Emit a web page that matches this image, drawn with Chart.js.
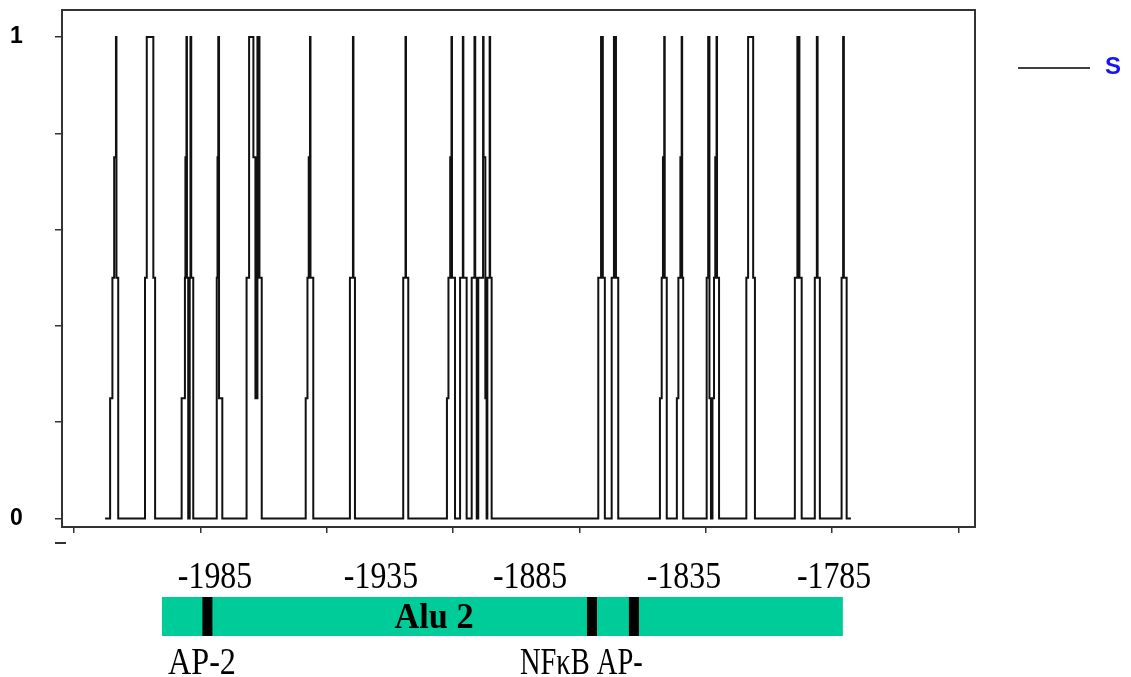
<!DOCTYPE html>
<html>
<head>
<meta charset="utf-8">
<script src="https://cdn.jsdelivr.net/npm/chart.js@4.4.1/dist/chart.umd.min.js"></script>
<style>
  html, body { margin: 0; padding: 0; background: #fff; }
  #wrap { width: 1131px; height: 677px; }
</style>
</head>
<body>
<div id="wrap"><canvas id="chart" width="1131" height="677"></canvas></div>
<script>
// positions where the level changes, and the new level at that position
const stepX = [
  12.3,
  14.3, 15.2, 15.9, 16.6, 16.8, 17.5,
  28.1, 28.8, 31.4, 32.1,
  42.6, 43.9, 44.1, 44.5, 44.7, 45.2,
  45.8, 46.1, 46.4, 47.2,
  56.5, 56.8, 57.1, 57.4, 58.7,
  68.3, 69.3, 71.0, 71.8, 72.6, 73.4, 74.3,
  91.7, 92.4, 92.9, 93.4, 93.6, 94.7,
  109.2, 110.4, 110.6, 111.2,
  130.3, 131.2, 131.4, 132.3,
  147.6, 148.2, 148.9, 149.4, 149.6, 150.8,
  152.8, 153.9, 154.1, 155.4,
  157.4, 158.5, 158.8, 159.4,
  160.0, 161.9, 162.1, 162.8, 163.3,
  163.6, 164.5, 164.7, 165.3,
  207.5, 208.6, 209.3, 210.1,
  212.8, 213.7, 214.5, 215.4,
  231.9, 232.6, 233.1, 233.6, 233.8, 234.6,
  238.6, 239.2, 240.0, 240.5, 240.7, 241.1,
  250.4, 251.0, 251.5, 252.1,
  252.7, 253.3, 253.8, 254.3, 254.5, 255.3,
  266.1, 266.8, 268.8, 269.5,
  285.3, 286.3, 287.1, 288.0,
  293.2, 294.0, 294.3, 295.2,
  303.8, 304.4, 304.7, 305.8,
  307.5
];
const stepY = [
  0,
  0.25, 0.5, 0.75, 1, 0.5, 0,
  0.5, 1, 0.5, 0,
  0.25, 0.5, 0.75, 1, 0.5, 0,
  0.5, 1, 0.5, 0,
  0.5, 0.75, 1, 0.25, 0,
  0.5, 1, 0.75, 0.25, 1, 0.5, 0,
  0.25, 0.5, 0.75, 1, 0.5, 0,
  0.5, 1, 0.5, 0,
  0.5, 1, 0.5, 0,
  0.25, 0.5, 0.75, 1, 0.5, 0,
  0.5, 1, 0.5, 0,
  0.5, 1, 0.5, 0,
  0.5, 1, 0.75, 0.25, 0,
  0.5, 1, 0.5, 0,
  0.5, 1, 0.5, 0,
  0.5, 1, 0.5, 0,
  0.25, 0.5, 0.75, 1, 0.5, 0,
  0.25, 0.5, 0.75, 1, 0.5, 0,
  0.5, 1, 0.25, 0,
  0.25, 0.5, 0.75, 1, 0.5, 0,
  0.5, 1, 0.5, 0,
  0.5, 1, 0.5, 0,
  0.5, 1, 0.5, 0,
  0.5, 1, 0.5, 0,
  0
];

const xTicks = [0, 50, 100, 150, 200, 250, 300, 350];
const yTicks = [0, 0.2, 0.4, 0.6, 0.8, 1];
const yShown = [0, 1];
const seriesName = 'S';

// annotation track under the plot
const posLabels = ['-1985', '-1935', '-1885', '-1835', '-1785'];
const posLabelAt = [55.8, 121.5, 180.5, 241.4, 300.8];
const aluRange = [34.8, 304.3];
const aluName = 'Alu 2';
const aluNameAt = 142.5;
const siteAt = [52.8, 205.0, 221.6];
const siteNames = ['AP-2', 'NF\u03BAB AP-'];
const siteNameAt = [37.2, 176.5];
const siteSqueeze = [0.87, 0.77];

const serif = "'Liberation Serif', 'Times New Roman', serif";

function squeezeText(ctx, txt, x, y, font, align, sx) {
  ctx.save();
  ctx.font = font;
  ctx.translate(x, y);
  ctx.scale(sx, 1);
  ctx.textAlign = align;
  ctx.textBaseline = 'alphabetic';
  ctx.fillText(txt, 0, 0);
  ctx.restore();
}

const decor = {
  id: 'decor',
  afterDraw(chart) {
    const { ctx, chartArea: a, scales: { x } } = chart;
    ctx.save();
    // plot frame
    ctx.strokeStyle = '#333';
    ctx.lineWidth = 2;
    ctx.strokeRect(a.left, a.top, a.right - a.left, a.bottom - a.top);
    // small dash below the corner
    ctx.beginPath();
    ctx.moveTo(a.left - 7, 543);
    ctx.lineTo(a.left + 4, 543);
    ctx.stroke();

    // legend
    ctx.strokeStyle = '#000';
    ctx.lineWidth = 1.5;
    ctx.beginPath();
    ctx.moveTo(1018, 68);
    ctx.lineTo(1090, 68);
    ctx.stroke();
    ctx.fillStyle = '#1414ff';
    ctx.font = "bold 24px 'Liberation Sans', Arial, sans-serif";
    ctx.textBaseline = 'middle';
    ctx.textAlign = 'left';
    ctx.fillText(seriesName, 1105, 67);

    // position labels
    ctx.fillStyle = '#000';
    posLabels.forEach((t, i) => {
      squeezeText(ctx, t, x.getPixelForValue(posLabelAt[i]), 588, '37px ' + serif, 'center', 0.86);
    });

    // Alu bar with binding sites
    const x0 = x.getPixelForValue(aluRange[0]);
    const x1 = x.getPixelForValue(aluRange[1]);
    ctx.fillStyle = '#00cc99';
    ctx.fillRect(x0, 597, x1 - x0, 39);
    ctx.fillStyle = '#000';
    siteAt.forEach(v => {
      const px = x.getPixelForValue(v);
      ctx.fillRect(px - 5, 597, 10, 39);
    });
    squeezeText(ctx, aluName, x.getPixelForValue(aluNameAt), 628, 'bold 35px ' + serif, 'center', 0.98);
    siteNames.forEach((t, i) => {
      squeezeText(ctx, t, x.getPixelForValue(siteNameAt[i]), 674, '37px ' + serif, 'left', siteSqueeze[i]);
    });
    ctx.restore();
  }
};

new Chart(document.getElementById('chart'), {
  type: 'line',
  data: {
    datasets: [{
      label: seriesName,
      data: stepX.map((v, i) => ({ x: v, y: stepY[i] })),
      stepped: true,
      borderColor: '#111',
      borderWidth: 2,
      pointRadius: 0,
      fill: false
    }]
  },
  options: {
    responsive: false,
    animation: false,
    devicePixelRatio: 1,
    layout: { padding: { top: 10, right: 156, left: 10, bottom: 0 } },
    plugins: { legend: { display: false }, tooltip: { enabled: false } },
    scales: {
      x: {
        type: 'linear',
        min: -4.75,
        max: 356.6,
        afterBuildTicks: s => { s.ticks = xTicks.map(v => ({ value: v })); },
        afterFit: s => { s.height = 150; },
        grid: { drawOnChartArea: false, drawTicks: true, tickLength: 6, color: '#333', lineWidth: 1.5 },
        border: { display: false },
        ticks: { callback: () => '', font: { size: 10, lineHeight: 1 } }
      },
      y: {
        min: -0.0176,
        max: 1.056,
        afterBuildTicks: s => { s.ticks = yTicks.map(v => ({ value: v })); },
        afterFit: s => { s.width = 52; },
        grid: { drawOnChartArea: false, drawTicks: true, tickLength: 7, color: '#333', lineWidth: 1.5 },
        border: { display: false },
        ticks: {
          padding: 0,
          crossAlign: 'far',
          color: '#000',
          font: { family: "'Liberation Sans', Arial, sans-serif", size: 23, weight: 'bold', lineHeight: 0.8 },
          callback: v => (yShown.includes(v) ? String(v) : '')
        }
      }
    }
  },
  plugins: [decor]
});
</script>
</body>
</html>
